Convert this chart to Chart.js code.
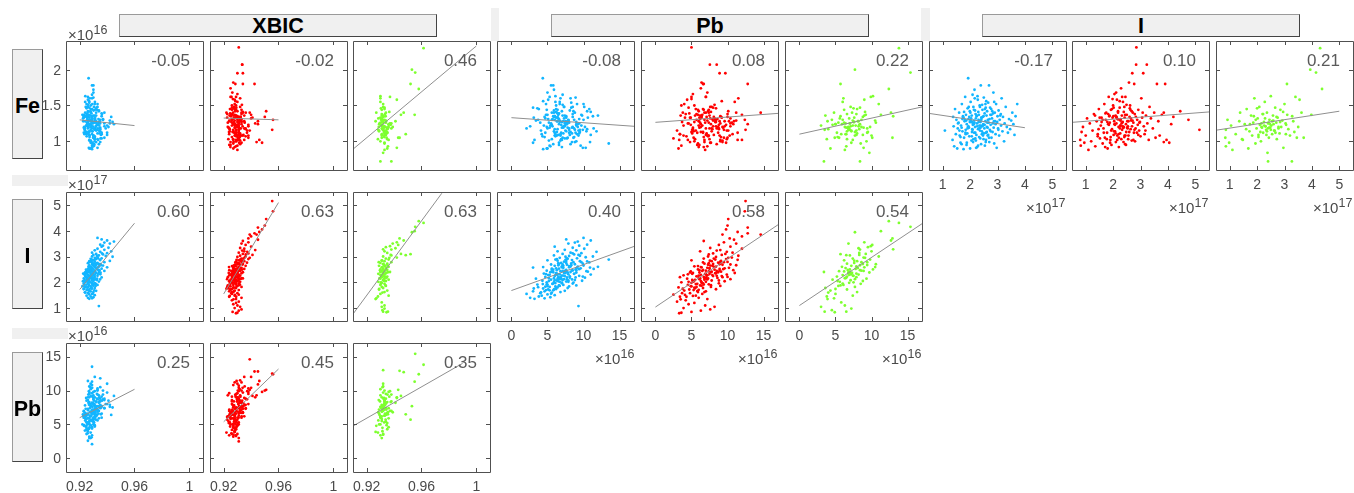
<!DOCTYPE html>
<html>
<head>
<meta charset="utf-8">
<title>Correlation panels</title>
<script src="https://cdn.jsdelivr.net/npm/chart.js@4"></script>
<style>
    body { margin: 0; background: #fff; width: 1354px; height: 493px; overflow: hidden; position: relative; font-family: "Liberation Sans", sans-serif; }
    canvas { position: absolute; }
    .strip { position: absolute; background: #f0f0f0; }
    .box { position: absolute; box-sizing: border-box; background: #f0f0f0; border: 1px solid #444; border-top-color: #9a9a9a; border-left-color: #9a9a9a;
        font-weight: bold; font-size: 21.5px; color: #000; display: flex; align-items: center; justify-content: center; z-index: 2; padding-top: 2px; }
    .side { padding-top: 5px; }
    .exp { position: absolute; font-size: 15px; color: #4a4a4a; line-height: 16px; white-space: nowrap; z-index: 3; }
    .exp sup { font-size: 12.5px; line-height: 0; position: relative; top: -1px; vertical-align: 5px; }
</style>
</head>
<body>
<script>
// blue group
const blueI = [
    1.08,1.36,1.38,1.40,1.42,1.45,1.48,1.50,1.53,1.55,
    1.58,1.60,1.62,1.65,1.67,1.70,1.72,1.74,1.76,1.78,
    1.80,1.82,1.84,1.85,1.87,1.88,1.90,1.91,1.93,1.94,
    1.96,1.97,1.99,2.00,2.02,2.03,2.05,2.06,2.07,2.09,
    2.10,2.11,2.12,2.14,2.15,2.16,2.18,2.19,2.20,2.21,
    2.23,2.24,2.25,2.26,2.28,2.29,2.30,2.31,2.33,2.34,
    2.35,2.36,2.38,2.39,2.40,2.41,2.43,2.44,2.45,2.46,
    2.48,2.49,2.50,2.52,2.53,2.54,2.56,2.57,2.58,2.60,
    2.61,2.62,2.64,2.65,2.66,2.68,2.69,2.70,2.72,2.74,
    2.75,2.77,2.78,2.80,2.82,2.83,2.85,2.86,2.88,2.90,
    2.91,2.93,2.95,2.97,2.99,3.00,3.02,3.04,3.06,3.08,
    3.10,3.13,3.15,3.18,3.20,3.24,3.26,3.30,3.34,3.38,
    3.42,3.46,3.50,3.54,3.58,3.62,3.66,3.72,
    2.31,1.97,2.64,1.83,2.18,2.47,1.72,2.93,2.08,2.56,
    2.24,1.88,2.39,2.73,1.61,2.12,2.02,2.84,1.94,2.51,
    2.16,2.69,1.78,2.33,2.04,2.59,1.69,2.43,2.87,2.27,
    2.42,1.92,2.21,2.78,1.56,2.36,2.09,2.66,1.81,2.53,
    2.14,2.61,1.99,2.29,1.74,2.47,2.81,2.06,2.38,1.86,
    2.19,2.71,2.44,1.91,2.57,2.11,3.12,1.65,2.34,2.01,
    2.26,2.49,1.84,2.63,2.17,3.03,2.37,1.76,2.54,2.22,
    2.41,1.95,2.75,2.13,2.32,1.69,2.58,2.88,2.07,2.46
];
const blueXbic = [
    .934,.927,.929,.926,.930,.928,.925,.931,.927,.929,
    .926,.924,.930,.928,.932,.925,.927,.923,.929,.931,
    .924,.926,.928,.922,.930,.927,.933,.925,.9265,.929,
    .923,.931,.926,.928,.924,.934,.927,.930,.925,.929,
    .927,.932,.926,.929,.923,.930,.928,.936,.925,.931,
    .927,.924,.933,.929,.926,.931,.928,.935,.930,.925,
    .928,.932,.926,.930,.934,.927,.929,.938,.931,.925,
    .928,.933,.930,.926,.936,.929,.932,.927,.940,.931,
    .928,.934,.930,.937,.927,.932,.929,.935,.931,.926,
    .933,.929,.938,.931,.927,.942,.930,.935,.929,.932,
    .928,.936,.931,.933,.944,.929,.939,.934,.930,.937,
    .932,.940,.929,.935,.943,.931,.938,.933,.941,.936,
    .937,.935,.942,.938,.945,.940,.936,.933,
    .9288,.9262,.9315,.9243,.9301,.9272,.9255,.9334,.9236,.9292,
    .9275,.9294,.9247,.9322,.9238,.9309,.9268,.9286,.9318,.9263,
    .9253,.9298,.9281,.9333,.9224,.9269,.9306,.9291,.9347,.9241,
    .9312,.9233,.9282,.9271,.9296,.9244,.9325,.9355,.9258,.9284,
    .9327,.9264,.9289,.9305,.9229,.9342,.9278,.9251,.9239,.9316,
    .9247,.9337,.9261,.9302,.9283,.9349,.9363,.9272,.9226,.9258,
    .9295,.9246,.9235,.9308,.9274,.9326,.9352,.9287,.9319,.9267,
    .9278,.9304,.9294,.9256,.9231,.9263,.9335,.9311,.9299,.9344
];
const blueFe = [
    1.15,1.02,1.34,1.21,.93,1.45,1.10,1.30,.90,1.18,
    1.26,1.40,1.08,.98,1.22,1.52,1.14,1.33,.89,1.05,
    1.28,1.62,1.16,1.37,.95,1.24,1.11,1.46,1.88,1.31,
    1.19,1.07,1.42,.90,1.55,1.27,1.01,1.36,1.13,1.65,
    1.23,.99,1.48,1.29,1.12,1.72,1.20,1.04,1.38,1.32,
    1.09,1.35,1.25,.92,1.58,1.17,1.41,1.30,1.06,1.22,
    1.50,1.15,1.27,1.78,.96,1.33,1.10,1.21,1.44,1.34,
    1.24,1.03,1.61,1.18,1.39,.94,1.28,1.47,1.12,1.36,
    1.20,1.42,1.08,1.30,1.54,1.26,1.78,.99,1.16,1.37,
    1.23,1.45,1.05,1.32,1.13,1.25,1.68,1.19,.97,1.40,
    1.28,1.10,1.52,.91,1.27,1.35,1.18,1.43,1.08,1.30,
    1.36,1.22,1.60,1.14,1.34,1.00,1.25,1.48,1.20,1.12,
    1.31,1.17,1.29,1.40,1.24,1.09,1.35,1.52,
    1.27,1.34,1.19,1.12,1.43,1.08,1.31,1.24,1.17,1.52,
    1.36,.98,1.22,1.47,1.15,1.03,1.29,1.39,1.21,1.11,
    1.26,1.05,1.41,1.18,1.32,1.56,.96,1.14,1.28,1.63,
    1.33,1.20,1.01,1.37,1.25,1.48,1.16,1.09,1.30,1.23,
    1.44,1.13,1.27,.94,1.35,1.22,1.42,1.07,1.19,1.29,
    1.12,1.31,1.51,1.18,.99,1.25,1.38,1.06,1.28,1.40,
    1.21,1.35,1.10,1.26,1.60,1.16,1.04,1.33,1.45,.91,
    1.30,1.48,1.14,1.24,1.37,1.19,1.02,1.55,1.27,1.11
];
const bluePb = [
    9.3,3.2,4.6,2.6,5.4,3.8,4.2,6.0,5.0,2.1,
    4.0,5.6,6.8,3.0,7.4,4.8,5.9,6.2,4.4,7.8,
    6.4,5.3,8.0,5.0,6.6,9.0,7.2,3.6,4.35,5.7,
    7.0,6.1,8.6,4.9,6.7,7.6,5.2,9.8,6.3,7.1,
    5.5,8.4,7.3,3.4,6.9,5.9,10.2,7.7,6.5,4.7,
    8.1,6.0,9.4,7.0,5.1,6.4,11.0,7.9,8.7,4.5,
    6.2,7.5,9.0,5.8,8.2,10.6,6.8,7.4,4.9,8.5,
    7.6,5.6,8.9,11.4,6.6,9.6,7.2,3.0,8.0,12.0,
    9.2,7.0,6.0,10.0,8.3,7.7,5.5,8.8,9.9,6.5,
    6.9,10.8,8.6,7.3,9.5,7.6,5.0,8.4,13.5,6.3,
    7.8,9.1,6.7,10.3,7.5,11.3,8.0,5.9,9.3,8.7,
    7.1,9.7,8.2,11.8,6.4,9.0,7.4,10.1,8.5,6.0,
    9.4,10.5,7.9,8.8,9.2,11.0,7.6,10.0,
    6.7,5.9,7.2,4.7,8.1,6.3,5.1,7.7,6.0,9.1,
    7.4,6.6,5.4,8.3,4.1,6.9,7.9,6.4,5.7,9.4,
    5.2,7.1,6.2,8.7,6.5,4.4,5.8,10.4,7.5,6.1,
    7.6,4.9,6.8,9.7,5.5,7.3,8.8,6.5,3.7,5.6,
    6.4,8.2,7.0,5.3,6.0,9.0,10.5,4.3,7.8,6.7,
    8.9,6.6,7.1,5.0,10.9,7.7,8.5,4.6,6.3,5.9,
    7.2,5.8,6.1,8.0,6.8,9.5,7.4,3.1,6.2,9.9,
    5.6,8.5,7.6,6.6,4.8,5.3,7.0,6.1,7.9,8.4
];

// red group
const redI = [
    .80,.82,.85,.90,.95,1.00,1.05,1.10,1.15,1.20,
    1.25,1.30,1.35,1.40,1.44,1.48,1.52,1.55,1.58,1.62,
    1.65,1.68,1.70,1.73,1.75,1.78,1.80,1.82,1.84,1.86,
    1.88,1.90,1.92,1.94,1.96,1.98,2.00,2.02,2.04,2.05,
    2.07,2.09,2.10,2.12,2.14,2.15,2.17,2.18,2.20,2.21,
    2.23,2.24,2.26,2.27,2.29,2.30,2.32,2.33,2.35,2.36,
    2.38,2.39,2.41,2.42,2.44,2.45,2.47,2.48,2.50,2.52,
    2.54,2.56,2.58,2.60,2.62,2.64,2.66,2.68,2.70,2.72,
    2.74,2.76,2.77,2.79,2.80,2.82,2.84,2.85,2.88,2.90,
    2.92,2.95,2.98,3.00,3.03,3.06,3.10,3.12,3.15,3.20,
    3.23,3.25,3.30,3.33,3.38,3.45,3.50,3.55,3.60,3.65,
    3.70,3.78,3.85,3.90,3.95,4.05,4.12,4.20,4.45,4.75,
    5.15,3.85,
    2.05,2.42,1.72,2.28,1.93,2.61,2.15,1.58,2.36,2.83,
    2.18,1.85,2.47,2.71,1.66,2.24,2.53,2.01,1.44,2.33,
    2.09,2.65,1.96,2.39,1.77,2.56,2.11,2.92,1.34,2.26,
    2.44,1.89,2.31,2.78,1.62,2.49,2.03,2.68,2.21,1.51,
    2.35,1.98,2.59,2.13,2.96,1.71,2.41,2.20,2.74,1.82,
    2.27,2.51,1.91,2.63,2.07,3.08,1.47,2.38,2.16,2.87,
    2.12,2.45,1.79,2.33,2.69,2.02,3.18,1.87,2.55,2.25
];
const redXbic = [
    .929,.930,.9265,.931,.933,.928,.932,.930,.927,.929,
    .931,.926,.929,.933,.924,.928,.931,.926,.930,.927,
    .924,.928,.931,.926,.922,.929,.927,.933,.925,.930,
    .923,.927,.929,.925,.931,.928,.926,.932,.924,.930,
    .927,.929,.925,.931,.928,.934,.926,.930,.923,.928,
    .930,.926,.932,.928,.925,.931,.929,.927,.933,.930,
    .928,.934,.926,.930,.932,.929,.927,.931,.928,.935,
    .930,.933,.927,.931,.929,.936,.928,.932,.930,.934,
    .931,.937,.9285,.933,.929,.935,.9335,.931,.932,.938,
    .933,.939,.930,.936,.932,.941,.934,.938,.931,.935,
    .9335,.943,.935,.932,.940,.936,.933,.938,.934,.945,
    .938,.940,.944,.9425,.946,.948,.945,.950,.951,.956,
    .9554,.939,
    .9282,.9301,.9247,.9265,.9289,.9274,.9314,.9256,.9237,.9322,
    .9268,.9295,.9241,.9306,.9277,.9286,.9325,.9253,.9291,.9262,
    .9284,.9273,.9246,.9298,.9234,.9317,.9263,.9344,.9271,.9309,
    .9256,.9312,.9279,.9292,.9259,.9333,.9245,.9283,.9303,.9282,
    .9297,.9267,.9239,.9324,.9353,.9249,.9276,.9288,.9304,.9226,
    .9241,.9285,.9318,.9261,.9308,.9361,.9244,.9272,.9331,.9294,
    .9225,.9302,.9275,.9257,.9338,.9292,.9372,.9243,.9269,.9315
];
const redFe = [
    1.02,.94,1.13,1.20,.98,1.08,1.32,.88,1.25,1.00,
    1.15,1.38,.93,1.28,1.10,1.45,1.04,1.22,1.33,.97,
    1.18,1.52,1.05,1.30,1.40,1.12,.90,1.24,1.62,1.35,
    1.26,1.02,1.44,.95,1.17,1.33,1.50,1.09,1.28,1.66,
    1.14,1.36,.99,1.25,1.58,1.08,1.31,1.42,1.20,.92,
    1.30,1.47,1.11,1.22,1.74,1.03,1.36,1.16,1.27,1.55,
    1.19,1.41,1.06,1.33,.96,1.62,1.24,1.13,1.37,1.28,
    1.21,1.08,1.82,1.34,1.50,1.17,1.29,1.01,1.95,1.40,
    1.26,1.12,1.80,1.38,1.00,1.18,2.07,2.31,1.30,1.23,
    1.44,1.15,1.27,1.07,1.60,1.33,1.95,1.21,1.10,1.36,
    2.07,1.25,1.02,1.48,1.32,1.18,1.40,1.05,1.80,1.28,
    1.08,1.37,.99,1.80,1.02,.98,1.24,1.34,1.42,1.30,
    1.16,1.40,
    1.24,1.08,1.39,1.31,1.15,1.46,1.02,1.27,1.19,1.34,
    1.40,1.23,.95,1.29,1.12,1.56,1.18,1.35,1.07,1.26,
    1.11,1.32,1.45,1.20,1.03,1.28,1.68,1.09,1.36,1.22,
    1.37,.98,1.25,1.16,1.30,1.51,1.14,1.42,1.05,1.33,
    1.21,1.59,1.13,1.34,1.26,.92,1.48,1.10,1.02,1.38,
    1.29,1.19,1.06,1.44,1.23,1.40,1.17,.99,1.31,1.12,
    1.33,1.08,1.27,1.62,1.21,1.47,1.15,1.36,1.03,1.18
];
const redPb = [
    3.3,3.6,5.0,6.3,7.6,3.9,8.2,6.9,4.6,5.4,
    3.0,4.2,7.2,6.0,3.4,5.6,2.5,6.5,4.8,5.9,
    7.0,4.0,5.3,8.4,3.8,6.6,3.2,7.7,5.0,9.0,
    6.2,4.5,7.4,5.8,8.8,6.4,3.6,7.0,9.6,5.2,
    7.8,5.5,6.8,10.4,4.4,7.3,8.6,6.0,9.3,6.7,
    5.7,8.0,7.1,3.9,6.3,9.9,7.5,5.1,8.3,11.0,
    6.1,7.7,9.1,4.9,8.5,7.0,10.8,6.6,5.9,8.9,
    9.6,7.2,6.4,8.1,5.4,7.9,11.2,9.3,8.9,6.8,
    7.4,8.7,6.6,10.0,9.0,7.8,7.55,5.0,8.3,9.8,
    6.7,10.1,8.4,7.3,11.5,9.2,9.7,8.0,10.7,6.2,
    8.5,9.0,12.0,7.6,10.4,8.8,11.2,9.5,6.7,10.9,
    10.3,12.0,9.3,12.8,11.4,9.8,12.8,10.0,10.1,12.4,
    12.5,14.6,
    6.3,7.4,4.7,7.9,5.6,8.4,6.8,3.7,5.2,9.1,
    7.0,4.9,6.1,8.0,5.8,9.2,7.5,6.4,4.3,6.9,
    5.1,7.6,6.6,8.7,5.5,10.2,7.2,8.1,3.5,6.0,
    6.5,7.7,4.5,9.5,6.8,8.2,5.3,7.3,10.0,4.1,
    8.4,5.0,6.3,7.1,10.6,6.0,7.8,3.4,9.0,5.7,
    7.2,9.4,6.7,5.9,8.8,7.4,5.2,4.8,6.2,11.4,
    6.1,8.9,5.4,7.0,10.4,4.6,9.9,6.4,7.5,8.5
];

// green group
const greenI = [
    .84,.86,.86,.92,.98,1.05,1.10,1.22,1.35,1.38,
    1.48,1.55,1.62,1.68,1.72,1.78,1.82,1.86,1.90,1.94,
    1.98,2.02,2.05,2.08,2.10,2.14,2.16,2.20,2.22,2.25,
    2.28,2.30,2.33,2.36,2.38,2.40,2.43,2.45,2.48,2.50,
    2.52,2.55,2.58,2.60,2.64,2.66,2.70,2.72,2.75,2.78,
    2.82,2.85,2.88,2.92,2.96,3.00,3.04,3.10,3.14,3.20,
    3.27,3.28,3.32,3.36,3.40,3.45,3.50,3.55,3.62,3.70,
    4.30,3.94,4.15,3.09,4.37,3.98,3.05,2.40,
    2.31,2.62,1.95,2.47,2.18,2.84,2.05,2.39,1.74,2.71,
    2.26,2.55,2.12,2.95,1.60,2.42,2.34,2.78,1.88,2.50,
    2.16,2.67,2.29,2.00,3.06,2.44,1.45,2.59,2.36,2.22
];
const greenXbic = [
    .9345,.9355,.932,.9315,.933,.931,.933,.931,.9265,.927,
    .936,.930,.933,.935,.929,.932,.931,.934,.930,.933,
    .931,.9285,.934,.932,.936,.930,.933,.931,.935,.932,
    .930,.933,.9285,.934,.932,.937,.931,.933,.935,.930,
    .932,.934,.931,.936,.929,.933,.932,.935,.930,.938,
    .933,.931,.936,.934,.942,.932,.938,.945,.935,.933,
    .938,.932,.941,.934,.937,.943,.939,.942,.947,.944,
    .9615,.953,.9554,.952,.958,.955,.9485,.930,
    .9318,.9335,.9305,.9297,.9345,.9312,.9328,.9355,.9291,.9322,
    .9308,.9341,.9325,.9365,.9315,.9301,.9331,.9288,.9338,.9319,
    .9294,.9351,.9311,.9304,.9375,.9326,.9282,.9316,.9343,.9334
];
const greenFe = [
    1.05,.93,1.16,1.30,.98,1.22,.88,1.10,1.28,1.40,
    1.02,1.24,1.45,.90,1.14,1.36,1.08,1.26,1.60,.97,
    1.18,1.32,1.09,1.48,1.23,1.00,1.20,1.38,1.12,1.27,
    1.55,1.21,1.16,1.40,.84,1.25,1.05,1.30,1.19,1.63,
    1.22,1.10,1.36,1.24,1.15,1.47,1.26,1.03,1.33,1.18,
    1.11,1.44,1.20,1.29,.91,1.52,1.25,1.37,1.17,1.08,
    .72,1.35,1.28,1.13,1.62,1.05,1.20,1.58,1.40,1.05,
    2.30,2.00,1.96,1.80,1.73,1.37,1.10,.72,
    1.21,1.15,1.30,1.24,1.19,1.27,1.06,1.18,1.24,1.34,
    1.22,1.28,1.13,1.41,1.17,1.26,1.09,1.20,1.35,1.16,
    1.25,1.12,1.32,1.46,1.23,1.19,1.03,1.29,1.14,1.38
];
const greenPb = [
    4.9,6.5,3.5,4.5,7.2,3.0,6.3,5.8,3.9,4.8,
    7.4,5.0,8.0,4.3,6.6,3.6,7.7,5.4,6.1,8.5,
    6.9,5.6,8.8,7.1,4.6,9.3,6.3,7.9,5.2,7.5,
    6.0,8.2,6.8,7.3,9.7,7.0,5.5,8.6,6.7,10.2,
    7.8,6.4,9.0,5.9,7.2,8.4,10.6,6.6,7.6,9.4,
    8.0,6.2,9.8,7.4,8.9,11.0,7.0,9.2,8.3,10.0,
    8.4,13.0,8.2,9.5,9.9,10.1,6.8,9.0,12.7,12.9,
    13.8,7.7,15.4,5.7,12.4,11.3,6.5,3.4,
    7.1,7.9,6.0,8.4,6.5,7.6,5.3,6.8,5.0,8.8,
    7.4,8.1,7.7,9.1,4.0,6.2,7.9,8.6,5.7,7.0,
    6.4,9.4,6.9,7.5,8.3,8.9,3.8,10.5,7.2,6.6
];

// r values and fit lines, panel order: row by row, left to right
const rValues = [
    "-0.05","-0.02","0.46","-0.08","0.08","0.22","-0.17","0.10","0.21",
    "0.60","0.63","0.63","0.40","0.58","0.54",
    "0.25","0.45","0.35"
];
const fitLines = [
    [.92,1.30,.96,1.22],[.92,1.325,.96,1.30],[.91,.89,1,2.33],
    [0,1.33,17,1.21],[0,1.265,17,1.39],[0,1.10,17,1.48],
    [.5,1.39,4,1.19],[.5,1.265,5.5,1.41],[.5,1.155,5,1.42],
    [.92,1.72,.96,4.29],[.92,1.55,.96,5.09],[.91,.77,.9748,5.45],
    [0,1.68,17,3.39],[0,1.04,17,4.23],[0,1.10,17,4.27],
    [.92,6.0,.96,10.18],[.92,5.4,.96,13.17],[.91,4.77,.99,14.0]
];

const xbicTicks = [0.92, 0.96, 1];
const xbicLabels = ["0.92", "0.96", "1"];
const feTicks = [1, 1.5, 2];
const feLabels = ["1", "1.5", "2"];
const iTicks = [1, 2, 3, 4, 5];
const iLabels = ["1", "2", "3", "4", "5"];
const pbTicks = [0, 5, 10, 15];
const pbLabels = ["0", "5", "10", "15"];

const groups = [
    { color: "#12b5ff", xbic: blueXbic, fe: blueFe, i: blueI, pb: bluePb },
    { color: "#ff0000", xbic: redXbic, fe: redFe, i: redI, pb: redPb },
    { color: "#7dff2e", xbic: greenXbic, fe: greenFe, i: greenI, pb: greenPb },
];
const axes = {
    xbic: { min: 0.91, max: 1.01, ticks: xbicTicks, labels: xbicLabels },
    fe: { min: 0.6, max: 2.4, ticks: feTicks, labels: feLabels },
    i: { min: 0.5, max: 5.5, ticks: iTicks, labels: iLabels },
    pb: { min: -2, max: 17, ticks: pbTicks, labels: pbLabels },
};

const colKeys = ["xbic", "pb", "i"];
const rowKeys = ["fe", "i", "pb"];
const rowCols = [9, 6, 3];
const panelLefts = [66, 210, 353, 497, 641, 785, 929, 1072, 1216];
const panelTops = [41, 192, 343];
const panelW = 137;
const panelH = 129;
const marginL = 42;
const marginB = 30;
const pad = 2;

// box, inward ticks on all four sides, r value
const panelFrame = {
    id: "panelFrame",
    afterDatasetsDraw(chart, args, opts) {
        const { ctx, chartArea: a, scales } = chart;
        const len = 4;
        ctx.save();
        ctx.strokeStyle = "#505050";
        ctx.lineWidth = 1;
        ctx.beginPath();
        ctx.rect(a.left + 0.5, a.top + 0.5, a.right - a.left, a.bottom - a.top);
        scales.x.ticks.forEach((t, n) => {
            const px = Math.round(scales.x.getPixelForTick(n)) + 0.5;
            ctx.moveTo(px, a.bottom); ctx.lineTo(px, a.bottom - len);
            ctx.moveTo(px, a.top); ctx.lineTo(px, a.top + len);
        });
        scales.y.ticks.forEach((t, n) => {
            const py = Math.round(scales.y.getPixelForTick(n)) + 0.5;
            ctx.moveTo(a.left, py); ctx.lineTo(a.left + len, py);
            ctx.moveTo(a.right, py); ctx.lineTo(a.right - len, py);
        });
        ctx.stroke();
        ctx.fillStyle = "#5a5a5a";
        ctx.font = '17px "Liberation Sans"';
        ctx.textAlign = "right";
        ctx.textBaseline = "middle";
        ctx.fillText(opts.r, a.right - 13, a.top + 20);
        ctx.restore();
    },
};

function axisOptions(key, showLabels, isX) {
    const ax = axes[key];
    return {
        type: "linear",
        min: ax.min,
        max: ax.max,
        grid: { display: false, drawTicks: false },
        border: { display: false },
        afterBuildTicks: (scale) => { scale.ticks = ax.ticks.map((v) => ({ value: v })); },
        afterFit: (scale) => {
            if (isX) scale.height = marginB;
            else scale.width = marginL;
            scale.paddingLeft = scale.paddingRight = scale.paddingTop = scale.paddingBottom = 0;
        },
        ticks: {
            display: showLabels,
            autoSkip: false,
            maxRotation: 0,
            padding: isX ? 7 : 5,
            labelOffset: isX ? 0 : 1,
            color: "#4a4a4a",
            font: { family: "Liberation Sans", size: 14 },
            callback: (value, n) => ax.labels[n],
        },
    };
}

function drawPanel(row, col, panelIndex) {
    const group = groups[col % 3];
    const xKey = colKeys[Math.floor(col / 3)];
    const yKey = rowKeys[row];
    const xs = group[xKey];
    const ys = group[yKey];
    const fit = fitLines[panelIndex];

    const canvas = document.createElement("canvas");
    canvas.width = panelW + marginL + pad;
    canvas.height = panelH + marginB + pad;
    canvas.style.left = panelLefts[col] - marginL + "px";
    canvas.style.top = panelTops[row] - pad + "px";
    document.body.appendChild(canvas);

    new Chart(canvas.getContext("2d"), {
        type: "scatter",
        data: {
            datasets: [
                {
                    data: [{ x: fit[0], y: fit[1] }, { x: fit[2], y: fit[3] }],
                    showLine: true,
                    borderColor: "#8f8f8f",
                    borderWidth: 1,
                    pointRadius: 0,
                    order: 0,
                },
                {
                    data: xs.map((x, n) => ({ x: x, y: ys[n] })),
                    backgroundColor: group.color,
                    pointRadius: 1.4,
                    pointBorderWidth: 0,
                    order: 1,
                },
            ],
        },
        options: {
            responsive: false,
            animation: false,
            layout: { autoPadding: false, padding: { top: pad, right: pad, left: 0, bottom: 0 } },
            plugins: { legend: { display: false }, tooltip: { enabled: false }, panelFrame: { r: rValues[panelIndex] } },
            scales: {
                x: axisOptions(xKey, row === 2 || (row === 1 && col >= 3 && col < 6) || (row === 0 && col >= 6), true),
                y: axisOptions(yKey, col === 0, false),
            },
        },
        plugins: [panelFrame],
    });
}

function addDiv(cls, left, top, width, height, html) {
    const el = document.createElement("div");
    el.className = cls;
    el.style.left = left + "px";
    el.style.top = top + "px";
    if (width) el.style.width = width + "px";
    if (height) el.style.height = height + "px";
    if (html) el.innerHTML = html;
    document.body.appendChild(el);
}

function addExponent(left, top, power) {
    addDiv("exp", left, top, 0, 0, "\u00d710<sup>" + power + "</sup>");
}

[[491, 8, 8, 33], [921, 8, 9, 33], [12, 175, 56, 11], [12, 328, 56, 11]].forEach((s) => addDiv("strip", s[0], s[1], s[2], s[3]));

addDiv("box", 119, 14, 318, 23, "XBIC");
addDiv("box", 551, 14, 318, 23, "Pb");
addDiv("box", 982, 14, 318, 23, "I");
addDiv("box side", 12, 49, 31, 110, "Fe");
addDiv("box side", 12, 199, 31, 110, "I");
addDiv("box side", 12, 352, 31, 110, "Pb");

let panelIndex = 0;
rowCols.forEach((count, row) => {
    for (let col = 0; col < count; col++) {
        drawPanel(row, col, panelIndex);
        panelIndex++;
    }
});

addExponent(68, 27, 16);
addExponent(68, 177, 17);
addExponent(68, 328, 16);
[595, 738, 882].forEach((x) => addExponent(x, 351, 16));
[1026, 1169, 1313].forEach((x) => addExponent(x, 200, 17));
</script>
</body>
</html>
